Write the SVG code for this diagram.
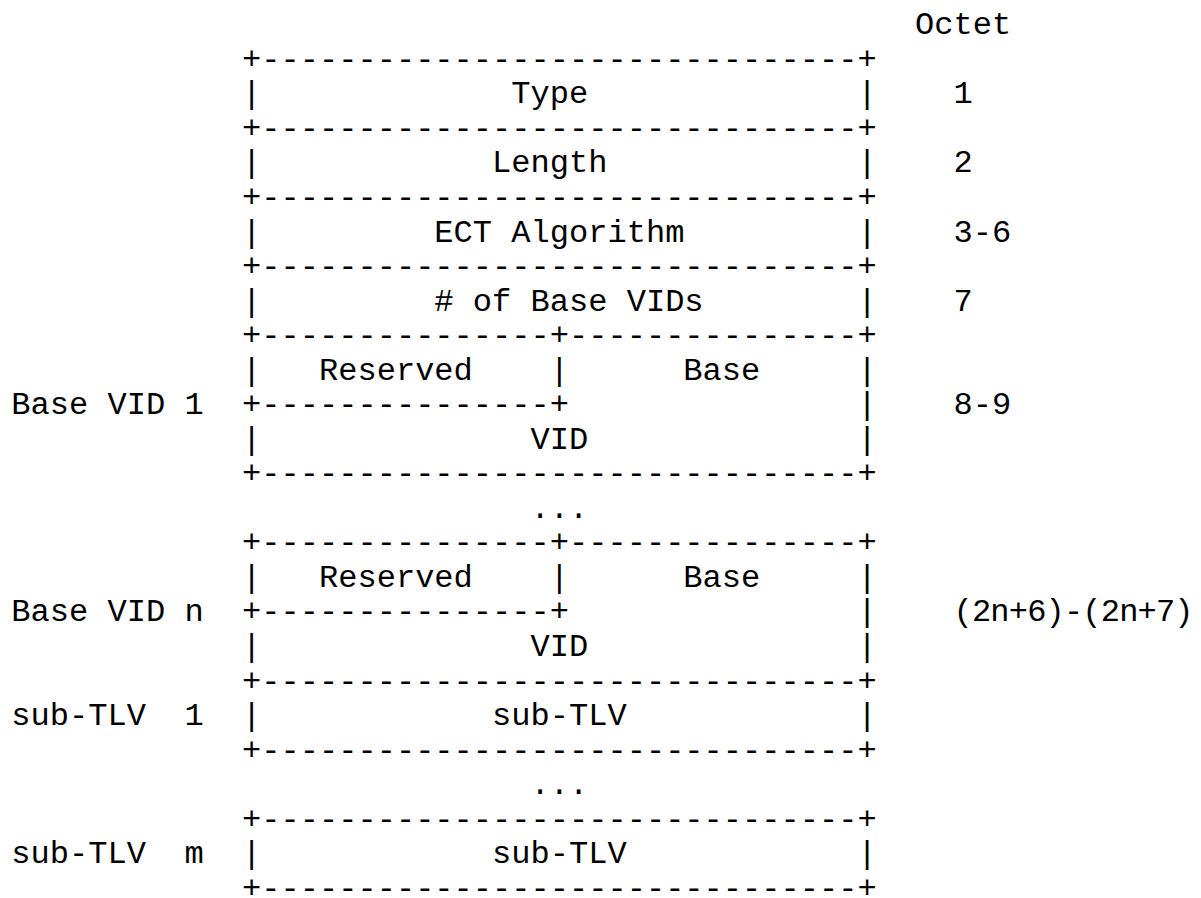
<svg xmlns="http://www.w3.org/2000/svg" width="1201" height="898" viewBox="0 0 1201 898">
<style>
text{font-family:"Liberation Mono","Courier New",monospace;font-size:32.05px;fill:#000;white-space:pre}
</style>
<rect width="1201" height="898" fill="#fff"/>
<g id="connectors" xml:space="preserve">
<text x="242.06" y="68.84">+-------------------------------+</text>
<text x="242.06" y="103.38">|</text><text x="857.42" y="103.38">|</text>
<text x="242.06" y="137.92">+-------------------------------+</text>
<text x="242.06" y="172.46">|</text><text x="857.42" y="172.46">|</text>
<text x="242.06" y="207.0">+-------------------------------+</text>
<text x="242.06" y="241.54">|</text><text x="857.42" y="241.54">|</text>
<text x="242.06" y="276.08">+-------------------------------+</text>
<text x="242.06" y="310.62">|</text><text x="857.42" y="310.62">|</text>
<text x="242.06" y="345.16">+---------------+---------------+</text>
<text x="242.06" y="379.7">|</text><text x="549.74" y="379.7">|</text><text x="857.42" y="379.7">|</text>
<text x="242.06" y="414.24">+---------------+</text><text x="857.42" y="414.24">|</text>
<text x="242.06" y="448.78">|</text><text x="857.42" y="448.78">|</text>
<text x="242.06" y="483.32">+-------------------------------+</text>
<text x="242.06" y="552.4">+---------------+---------------+</text>
<text x="242.06" y="586.94">|</text><text x="549.74" y="586.94">|</text><text x="857.42" y="586.94">|</text>
<text x="242.06" y="621.48">+---------------+</text><text x="857.42" y="621.48">|</text>
<text x="242.06" y="656.02">|</text><text x="857.42" y="656.02">|</text>
<text x="242.06" y="690.56">+-------------------------------+</text>
<text x="242.06" y="725.1">|</text><text x="857.42" y="725.1">|</text>
<text x="242.06" y="759.64">+-------------------------------+</text>
<text x="242.06" y="828.72">+-------------------------------+</text>
<text x="242.06" y="863.26">|</text><text x="857.42" y="863.26">|</text>
<text x="242.06" y="897.8">+-------------------------------+</text>
</g>
<g id="header"><text x="915.11" y="34.3">Octet</text></g>
<g id="field-type"><text x="511.28" y="103.38">Type</text><text x="953.57" y="103.38">1</text></g>
<g id="field-length"><text x="492.05" y="172.46">Length</text><text x="953.57" y="172.46">2</text></g>
<g id="field-ect"><text x="434.36" y="241.54">ECT Algorithm</text><text x="953.57" y="241.54">3-6</text></g>
<g id="field-numvids"><text x="434.36" y="310.62"># of Base VIDs</text><text x="953.57" y="310.62">7</text></g>
<g id="field-basevid1">
<text x="11.3" y="414.24">Base VID 1</text>
<text x="318.98" y="379.7">Reserved</text>
<text x="683.35" y="379.7">Base</text>
<text x="530.51" y="448.78">VID</text>
<text x="953.57" y="414.24">8-9</text>
</g>
<g id="ellipsis1"><text x="530.51" y="517.86">...</text></g>
<g id="field-basevidn">
<text x="11.3" y="621.48">Base VID n</text>
<text x="318.98" y="586.94">Reserved</text>
<text x="683.35" y="586.94">Base</text>
<text x="530.51" y="656.02">VID</text>
<text x="953.57" y="621.48" textLength="240" lengthAdjust="spacing">(2n+6)-(2n+7)</text>
</g>
<g id="field-subtlv1">
<text x="11.3" y="725.1" xml:space="preserve">sub-TLV  1</text>
<text x="492.05" y="725.1">sub-TLV</text>
</g>
<g id="ellipsis2"><text x="530.51" y="794.18">...</text></g>
<g id="field-subtlvm">
<text x="11.3" y="863.26" xml:space="preserve">sub-TLV  m</text>
<text x="492.05" y="863.26">sub-TLV</text>
</g>
</svg>
